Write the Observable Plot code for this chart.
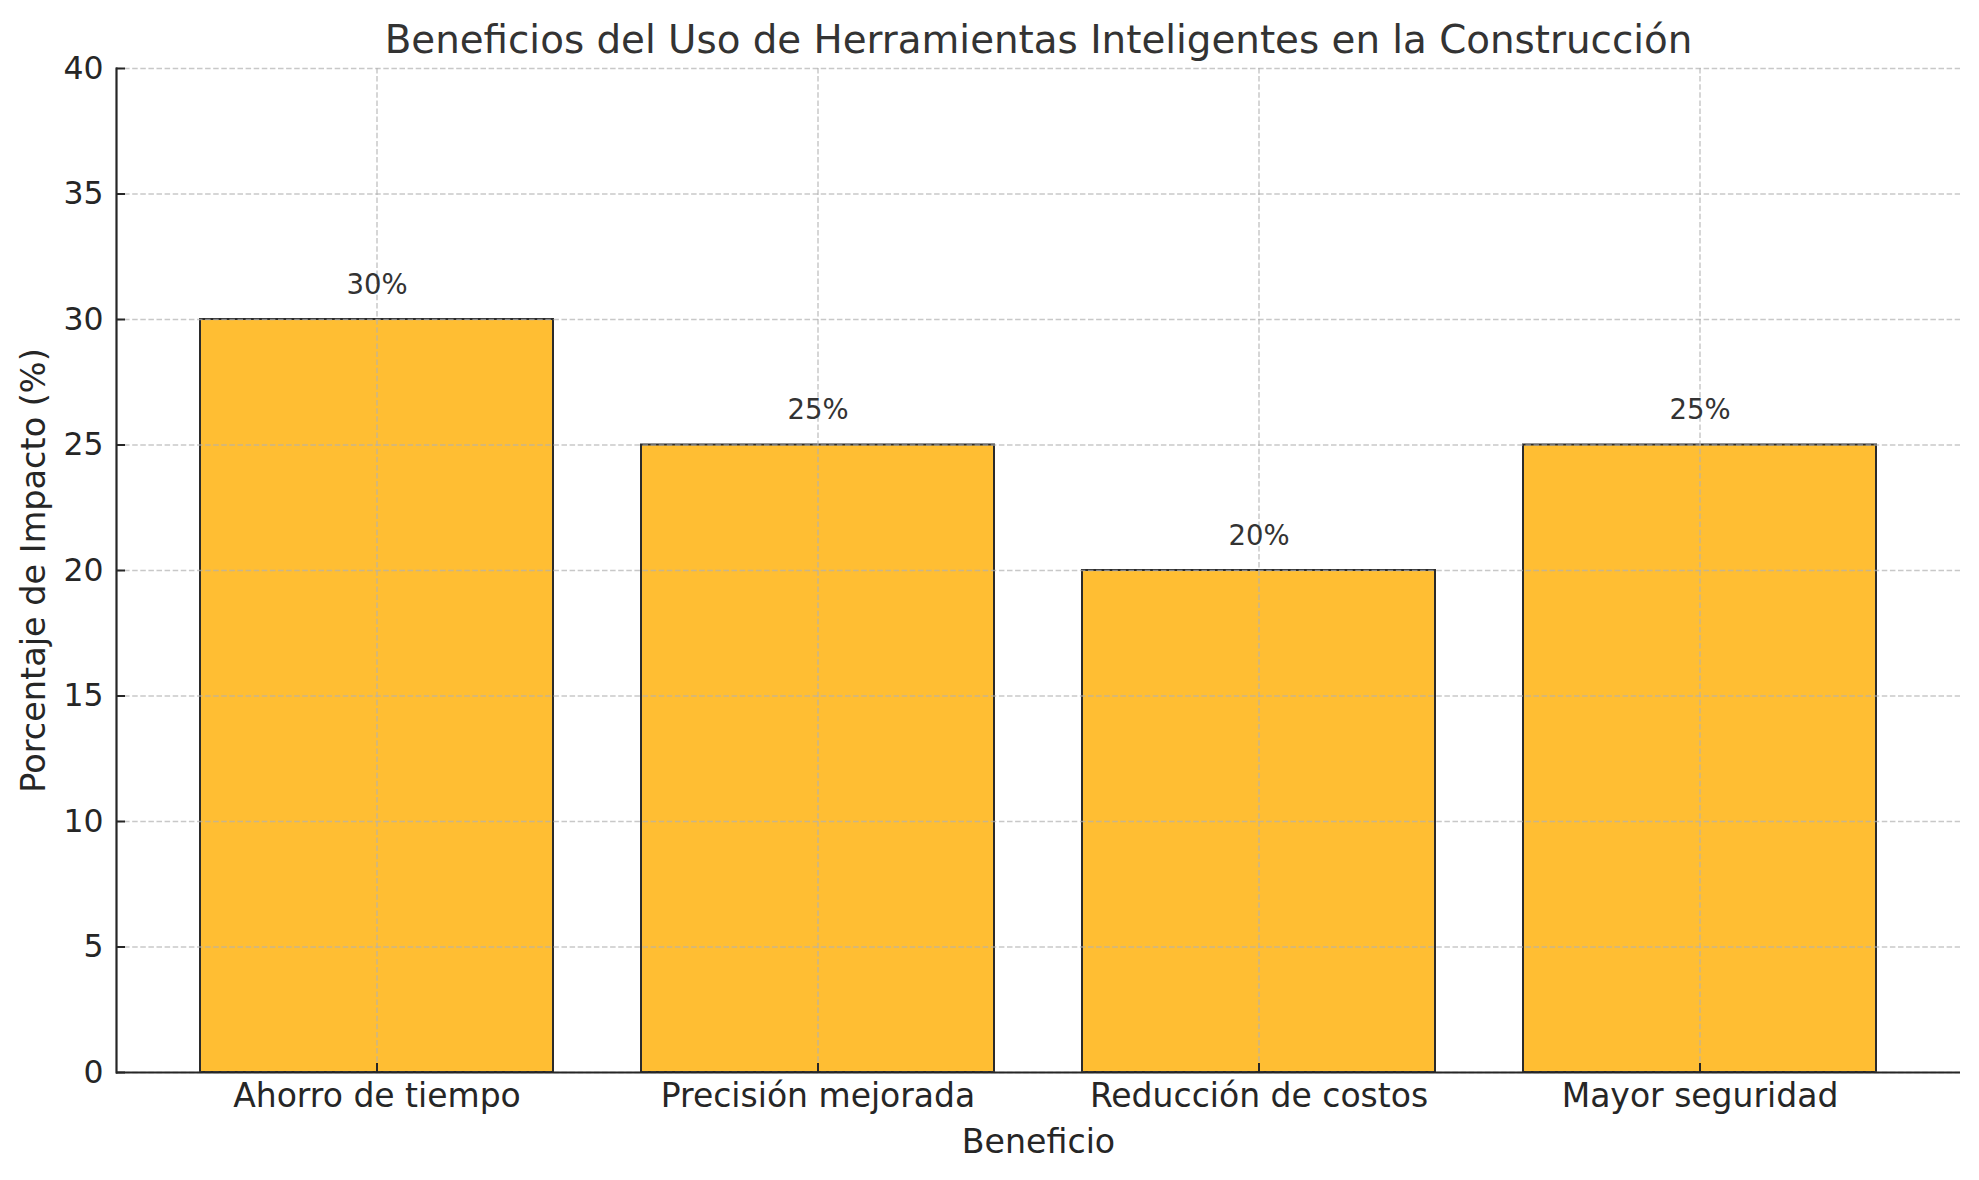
<!DOCTYPE html>
<html>
<head>
<meta charset="utf-8">
<script src="https://cdn.jsdelivr.net/npm/d3@7"></script>
<script src="https://cdn.jsdelivr.net/npm/@observablehq/plot@0.6"></script>
<style>
  html, body { margin: 0; padding: 0; background: #ffffff; }
  #chart svg { display: block; }
</style>
</head>
<body>
<div id="chart"></div>
<script>
const titleText = "Beneficios del Uso de Herramientas Inteligentes en la Construcción";
const xLabel = "Beneficio";
const yLabel = "Porcentaje de Impacto (%)";
const categories = ["Ahorro de tiempo", "Precisión mejorada", "Reducción de costos", "Mayor seguridad"];
const values = [30, 25, 20, 25];
const yTicks = [0, 5, 10, 15, 20, 25, 30, 35, 40];

const data = categories.map((c, i) => ({cat: c, val: values[i]}));

const W = 1979, H = 1180;
const mL = 116, mR = 19, mT = 68, mB = 108;
const ink = "#262626";
const gridStyle = {stroke: "#b0b0b0", strokeOpacity: 0.7, strokeWidth: 1.5, strokeDasharray: "5.5,2.6"};

const chart = Plot.plot({
  width: W,
  height: H,
  marginLeft: mL,
  marginRight: mR,
  marginTop: mT,
  marginBottom: mB,
  style: {fontFamily: "DejaVu Sans", background: "#ffffff", overflow: "visible"},
  x: {type: "band", domain: categories, paddingInner: 0.2, paddingOuter: 0.19, label: null},
  y: {domain: [0, 40], label: null},
  marks: [
    Plot.barY(data, {x: "cat", y: "val", fill: "#FFBE33", stroke: "#2b2b2b", strokeWidth: 2}),
    Plot.gridY(yTicks, gridStyle),
    Plot.gridX(categories, gridStyle),
    Plot.text(data, {x: "cat", y: "val", text: d => d.val + "%", dy: -26, lineAnchor: "bottom", fontSize: 27.5, fill: "#333333"}),
    Plot.frame({anchor: "left", stroke: ink, strokeWidth: 2.2}),
    Plot.ruleY([0], {stroke: ink, strokeWidth: 2.2}),
    Plot.axisY(yTicks, {tickSize: -9, fill: "none", stroke: ink, strokeWidth: 2, label: null}),
    Plot.axisY(yTicks, {tickSize: 0, tickPadding: 13, fontSize: 31.5, fill: ink, label: null}),
    Plot.axisX(categories, {tickSize: -9, fill: "none", stroke: ink, strokeWidth: 2, label: null}),
    Plot.axisX(categories, {tickSize: 0, tickPadding: 11, fontSize: 33, fill: ink, label: null}),
    Plot.text([titleText], {frameAnchor: "top", dy: -16, lineAnchor: "bottom", fontSize: 38.8, fill: "#333333"}),
    Plot.text([xLabel], {frameAnchor: "bottom", dy: 80, lineAnchor: "bottom", fontSize: 33.2, fill: ink}),
    Plot.text([yLabel], {frameAnchor: "left", dx: -82, rotate: -90, lineAnchor: "middle", textAnchor: "middle", fontSize: 33.5, fill: ink})
  ]
});
document.getElementById("chart").appendChild(chart);
</script>
</body>
</html>
